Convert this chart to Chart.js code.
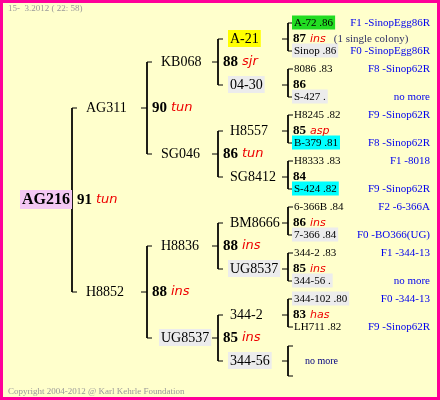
<!DOCTYPE html>
<html>
<head>
<meta charset="utf-8">
<script src="https://cdn.jsdelivr.net/npm/chart.js@4"></script>
<style>
  html, body { margin: 0; padding: 0; background: #fff; }
  #wrap { width: 440px; height: 400px; }
</style>
</head>
<body>
<div id="wrap"><canvas id="pedigree" width="440" height="400"></canvas></div>
<script>
// pedigree data, generation by generation
const gen0 = ["AG216"];
const gen1 = ["AG311", "H8852"];
const gen2 = ["KB068", "SG046", "H8836", "UG8537"];
const gen3 = ["A-21", "04-30", "H8557", "SG8412", "BM8666", "UG8537", "344-2", "344-56"];
const gen4 = ["A-72 .86", "Sinop .86", "8086 .83", "S-427 .", "H8245 .82", "B-379 .81", "H8333 .83", "S-424 .82",
  "6-366B .84", "7-366 .84", "344-2 .83", "344-56 .", "344-102 .80", "LH711 .82", "", ""];

// score + race under each node (shown between its two parents)
const scores0 = [["91", "tun"]];
const scores1 = [["90", "tun"], ["88", "ins"]];
const scores2 = [["88", "sjr"], ["86", "tun"], ["88", "ins"], ["85", "ins"]];
const scores3 = [["87", "ins"], ["86", ""], ["85", "asp"], ["84", ""], ["86", "ins"], ["85", "ins"], ["83", "has"], null];

const notes4 = ["F1 -SinopEgg86R", "F0 -SinopEgg86R", "F8 -Sinop62R", "no more", "F9 -Sinop62R", "F8 -Sinop62R",
  "F1 -8018", "F9 -Sinop62R", "F2 -6-366A", "F0 -BO366(UG)", "F1 -344-13", "no more", "F0 -344-13", "F9 -Sinop62R", "", ""];

const highlights = {
  "0:0": "#f4c8f4",
  "3:0": "#ffff00",
  "3:1": "#ececec",
  "2:3": "#ececec",
  "3:5": "#ececec",
  "3:7": "#ececec",
  "4:0": "#22dd22",
  "4:1": "#ececec",
  "4:3": "#ececec",
  "4:5": "#00ffff",
  "4:7": "#00ffff",
  "4:9": "#ececec",
  "4:11": "#ececec",
  "4:12": "#ececec",
};

const gens = [gen0, gen1, gen2, gen3, gen4];
const scoreGens = [scores0, scores1, scores2, scores3];
const bracketX = [72, 147, 218, 288];
const labelX = [22, 86, 161, 230, 294];
const SERIF = "'Liberation Serif'";

// vertical layout: gen3 evenly spaced, others derived from it
function nodeY(g, i) {
  if (g === 3) return 39 + 46 * i;
  if (g === 4) return nodeY(3, Math.floor(i / 2)) + (i % 2 === 0 ? -16 : 12);
  return (nodeY(g + 1, 2 * i) + nodeY(g + 1, 2 * i + 1)) / 2;
}

function buildBrackets() {
  const pts = [];
  for (let g = 0; g < 4; g++) {
    gens[g].forEach((_, i) => {
      const y = nodeY(g, i);
      const bx = bracketX[g];
      let top = nodeY(g + 1, 2 * i);
      let bot = nodeY(g + 1, 2 * i + 1);
      if (g === 3 && i === 7) { top = y - 15; bot = y + 15; }
      pts.push({ x: bx - 6, y }, { x: bx, y }, { x: null, y: null });
      pts.push({ x: bx + 5, y: top }, { x: bx, y: top }, { x: bx, y: bot }, { x: bx + 5, y: bot }, { x: null, y: null });
    });
  }
  return pts;
}

const textPlugin = {
  id: "pedigreeText",
  beforeDraw(chart) {
    const c = chart.ctx;
    c.save();
    c.fillStyle = "#ffffcc";
    c.fillRect(0, 0, 440, 400);
    c.restore();
  },
  afterDraw(chart) {
    const c = chart.ctx;
    const sx = chart.scales.x, sy = chart.scales.y;
    const px = (v) => sx.getPixelForValue(v);
    const py = (v) => sy.getPixelForValue(v);
    c.save();
    c.textBaseline = "middle";

    gens.forEach((list, g) => {
      const size = g === 0 ? 16 : g === 4 ? 11 : 14;
      list.forEach((name, i) => {
        if (!name) return;
        const x = px(labelX[g]), y = py(nodeY(g, i));
        c.font = (g === 0 ? "bold " : "") + size + "px " + SERIF;
        const w = c.measureText(name).width;
        const bg = highlights[g + ":" + i];
        if (bg) {
          c.fillStyle = bg;
          c.fillRect(x - 2, y - size / 2 - 2, w + 4, size + 3);
        }
        c.fillStyle = "#000";
        c.fillText(name, x, y);
      });
    });

    scoreGens.forEach((list, g) => {
      list.forEach((s, i) => {
        if (!s) return;
        const x = px(bracketX[g] + 5), y = py(nodeY(g, i));
        c.font = "bold " + (g === 3 ? 13 : 15) + "px " + SERIF;
        c.fillStyle = "#000";
        c.fillText(s[0], x, y);
        const w = c.measureText(s[0]).width;
        c.font = "italic " + (g === 3 ? 11 : 13) + "px 'DejaVu Sans'";
        c.fillStyle = "#ee0000";
        c.fillText(s[1], x + w + 4, y);
        if (g === 3 && i === 0) {
          const w2 = c.measureText(s[1]).width;
          c.font = "11px " + SERIF;
          c.fillStyle = "#333366";
          c.fillText("(1 single colony)", x + w + w2 + 12, y);
        }
      });
    });

    c.textAlign = "right";
    c.font = "11px " + SERIF;
    c.fillStyle = "#0000ee";
    notes4.forEach((n, i) => {
      if (!n) return;
      c.fillText(n, px(430), py(nodeY(4, i)));
    });

    c.textAlign = "left";
    c.font = "10px " + SERIF;
    c.fillStyle = "#000080";
    c.fillText("no more", px(305), py(nodeY(3, 7)));

    c.font = "9px " + SERIF;
    c.fillStyle = "#999999";
    c.fillText("15-  3.2012 ( 22: 58)", px(8), py(9));
    c.fillText("Copyright 2004-2012 @ Karl Kehrle Foundation", px(8), py(392));

    c.strokeStyle = "#ff0099";
    c.lineWidth = 3;
    c.strokeRect(1.5, 1.5, 437, 397);
    c.restore();
  },
};

new Chart(document.getElementById("pedigree"), {
  type: "scatter",
  data: {
    datasets: [{
      data: buildBrackets(),
      showLine: true,
      spanGaps: false,
      borderColor: "#000",
      borderWidth: 1,
      pointRadius: 0,
      tension: 0,
    }],
  },
  options: {
    responsive: false,
    animation: false,
    layout: { padding: 0 },
    plugins: { legend: { display: false }, tooltip: { enabled: false } },
    scales: {
      x: { type: "linear", min: 0, max: 440, display: false },
      y: { type: "linear", min: 0, max: 400, reverse: true, display: false },
    },
  },
  plugins: [textPlugin],
});
</script>
</body>
</html>
